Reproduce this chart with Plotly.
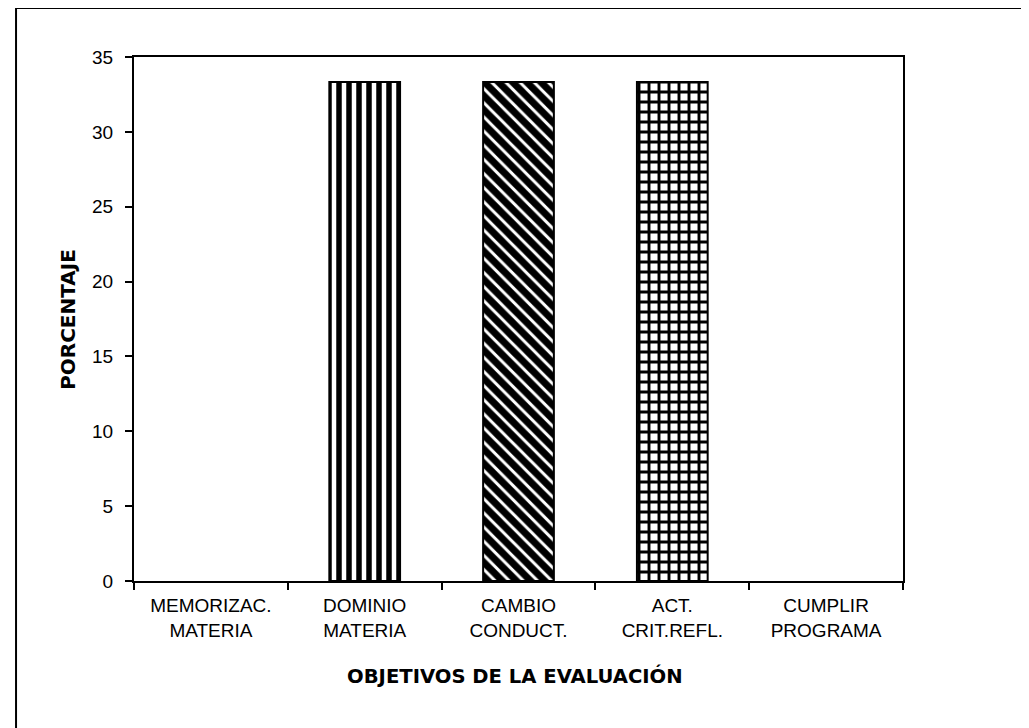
import plotly.graph_objects as go

# datos del gráfico
categorias = ["MEMORIZAC.<br>MATERIA", "DOMINIO<br>MATERIA", "CAMBIO<br>CONDUCT.",
              "ACT.<br>CRIT.REFL.", "CUMPLIR<br>PROGRAMA"]
porcentajes = [0, 33.33, 33.33, 33.33, 0]
patrones = ["", "|", "\\", "+", ""]
ticks_y = [0, 5, 10, 15, 20, 25, 30, 35]

fuente = "Liberation Sans, Arial, sans-serif"
fuente_titulo = "DejaVu Sans, sans-serif"

fig = go.Figure()
fig.add_trace(go.Bar(
    x=categorias,
    y=porcentajes,
    width=0.46,
    marker=dict(
        color="white",
        line=dict(color="black", width=[0 if v == 0 else 2 for v in porcentajes]),
        pattern=dict(shape=patrones, fgcolor="black", bgcolor="white", fgopacity=1,
                     size=10, solidity=[0.3, 0.55, 0.7, 0.5, 0.3], fillmode="overlay"),
    ),
))

fig.update_layout(
    width=1029, height=728,
    margin=dict(l=126, r=134, t=49, b=155),
    paper_bgcolor="white", plot_bgcolor="white",
    showlegend=False,
    font=dict(family=fuente, color="black", size=19),
    xaxis=dict(
        showline=True, linecolor="black", linewidth=2, mirror=True,
        ticks="outside", tickson="boundaries", ticklen=7, tickcolor="black", tickwidth=1.5,
        tickfont=dict(size=19), ticklabelstandoff=6, showgrid=False,
    ),
    yaxis=dict(
        range=[0, 35], tickvals=ticks_y,
        showline=True, linecolor="black", linewidth=2, mirror=True,
        ticks="outside", ticklen=7, tickcolor="black", tickwidth=1.5,
        tickfont=dict(size=19), ticklabelstandoff=8, showgrid=False, zeroline=False,
    ),
)

# títulos de los ejes
fig.add_annotation(text="<b>OBJETIVOS DE LA EVALUACIÓN</b>", xref="paper", yref="paper",
                   x=0.495, y=-0.181, xanchor="center", yanchor="middle", showarrow=False,
                   font=dict(family=fuente_titulo, size=19.6))
fig.add_annotation(text="<b>PORCENTAJE</b>", xref="paper", yref="paper",
                   x=-0.086, y=0.5, xanchor="center", yanchor="middle",
                   showarrow=False, textangle=-90,
                   font=dict(family=fuente_titulo, size=20))

# marco exterior de la figura
fig.add_shape(type="line", xref="paper", yref="paper",
              x0=-0.1534, x1=1.2, y0=1.0935, y1=1.0935,
              line=dict(color="black", width=2))
fig.add_shape(type="line", xref="paper", yref="paper",
              x0=-0.1534, x1=-0.1534, y0=1.0935, y1=-0.3,
              line=dict(color="black", width=2))

fig.write_html("out.html")
